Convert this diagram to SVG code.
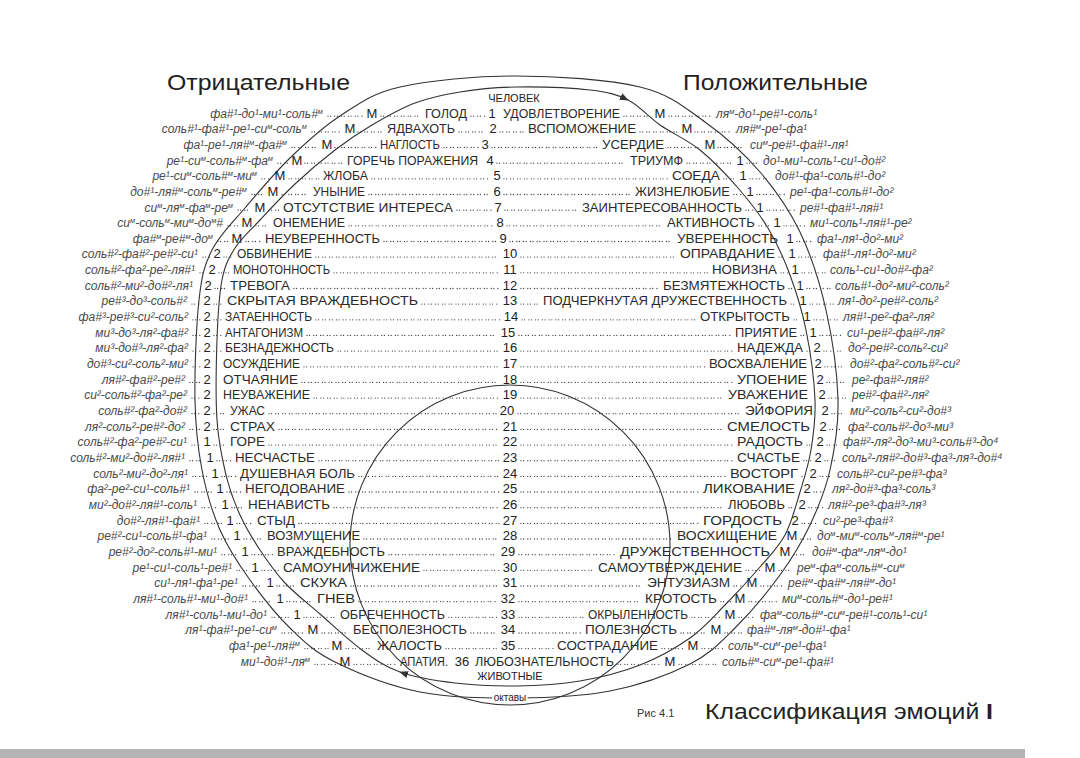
<svg xmlns="http://www.w3.org/2000/svg" width="1080" height="758" viewBox="0 0 1080 758">
<defs>
<marker id="ah" viewBox="0 0 10 10" refX="9" refY="5" markerWidth="9" markerHeight="9" orient="auto" markerUnits="userSpaceOnUse"><path d="M0,1 L10,5 L0,9 z" fill="#333"/></marker>
</defs>
<style>
text{font-family:"Liberation Sans",Arial,sans-serif}
.h{font-size:22px;fill:#222}
.cl{font-style:italic;font-size:12px;fill:#4a4a4a;text-anchor:end}
.cr{font-style:italic;font-size:12px;fill:#4a4a4a}
.u{font-size:7.5px;baseline-shift:super}
.m{font-size:13px;fill:#222;text-anchor:middle}
.n{font-size:13px;fill:#222;text-anchor:middle}
.e{font-size:12px;fill:#2a2a2a}
.er{font-size:12px;fill:#2a2a2a;text-anchor:end}
.d{fill:none;stroke:#444;stroke-width:1.3;stroke-linecap:round;stroke-dasharray:0 2.6 0 4.2}
.ln{fill:none;stroke:#333;stroke-width:1.1}
.s{font-size:11px;fill:#222;text-anchor:middle}
</style>
<rect width="1080" height="758" fill="#fff"/>
<rect x="0" y="749" width="1025" height="9" fill="#b4b4b4"/>

<g id="connectors">
<path id="outer" class="ln" d="M516,76 C556,76 608.5,79.3 640,87 C671.5,94.7 685,107.8 705,122 C725,136.2 744.2,153.7 760,172 C775.8,190.3 789,209 800,232 C811,255 819.7,282 826,310 C832.3,338 837.3,373.3 838,400 C838.7,426.7 834.7,449.2 830,470 C825.3,490.8 818.3,507.5 810,525 C801.7,542.5 792.5,557.8 780,575 C767.5,592.2 750,613.2 735,628 C720,642.8 710.8,653.5 690,664 C669.2,674.5 639,685.3 610,691 C581,696.7 547.7,697.8 516,698 C484.3,698.2 450.2,698 420,692 C389.8,686 356.7,672.7 335,662 C313.3,651.3 304.2,641.7 290,628 C275.8,614.3 261.7,596.3 250,580 C238.3,563.7 228,548.3 220,530 C212,511.7 206.2,491.7 202,470 C197.8,448.3 195.5,428.3 195,400 C194.5,371.7 196.2,325 199,300 C201.8,275 204.3,265.3 212,250 C219.7,234.7 232,223.3 245,208 C258,192.7 274.2,173.3 290,158 C305.8,142.7 321.7,127.8 340,116 C358.3,104.2 370.7,93.7 400,87 C429.3,80.3 476,76 516,76 Z"/>
<path id="inner-left" class="ln" marker-end="url(#ah)" d="M400,672 C384.5,666.5 375.3,659.7 362,650 C348.7,640.3 332.8,625.2 320,614 C307.2,602.8 295,593.7 285,583 C275,572.3 267.5,561.3 260,550 C252.5,538.7 245.7,527.5 240,515 C234.3,502.5 229.8,490.8 226,475 C222.2,459.2 218.5,442.5 217,420 C215.5,397.5 216.2,363.3 217,340 C217.8,316.7 219,295.3 222,280 C225,264.7 228.7,258 235,248 C241.3,238 250,230.7 260,220 C270,209.3 282.5,195.7 295,184 C307.5,172.3 322.2,159.8 335,150 C347.8,140.2 358.7,132.8 372,125 C385.3,117.2 400.3,108.5 415,103 C429.7,97.5 443.2,94.7 460,92 C476.8,89.3 494.3,87.3 516,87 C537.7,86.7 571.3,87.8 590,90 C608.7,92.2 616.3,94.2 628,100"/>
<path id="inner-right" class="ln" marker-end="url(#ah)" d="M628,100 C639.7,105.8 648,116.7 660,125 C672,133.3 687,139.5 700,150 C713,160.5 726.7,175 738,188 C749.3,201 759.3,213.5 768,228 C776.7,242.5 783.7,258 790,275 C796.3,292 801.8,309.2 806,330 C810.2,350.8 814.2,380 815,400 C815.8,420 813.5,434.7 811,450 C808.5,465.3 804.3,477.8 800,492 C795.7,506.2 791.7,522.5 785,535 C778.3,547.5 770,555.3 760,567 C750,578.7 736.7,593.2 725,605 C713.3,616.8 704.2,628 690,638 C675.8,648 658.3,657.8 640,665 C621.7,672.2 600.7,677.5 580,681 C559.3,684.5 536.8,685.7 516,686 C495.2,686.3 474.3,685.3 455,683 C435.7,680.7 415.5,677.5 400,672"/>
<circle class="ln" cx="510" cy="545" r="160"/>
</g>

<g id="headings">
<text class="h" x="167" y="90" textLength="183" lengthAdjust="spacingAndGlyphs">Отрицательные</text>
<text class="h" x="683" y="90" textLength="185" lengthAdjust="spacingAndGlyphs">Положительные</text>
<text class="s" x="514" y="102">ЧЕЛОВЕК</text>
<text class="s" x="510" y="680">ЖИВОТНЫЕ</text>
<text class="s" x="510" y="701" style="font-size:10px;paint-order:stroke;stroke:#fff;stroke-width:4">октавы</text>
<text x="637" y="717" style="font-size:11px;fill:#333">Рис 4.1</text>
<text class="h" x="705" y="719" textLength="288" lengthAdjust="spacingAndGlyphs">Классификация эмоций <tspan font-weight="bold">I</tspan></text>
</g>

<g id="row1" transform="translate(0,117.5)"><text class="cl" x="323">фа#¹-до¹-ми¹-соль#<tspan class="u">м</tspan></text><text class="m" x="372">М</text><text class="e" x="425" textLength="42" lengthAdjust="spacingAndGlyphs">ГОЛОД</text><text class="n" x="492">1</text><text class="er" x="620" textLength="117" lengthAdjust="spacingAndGlyphs">УДОВЛЕТВОРЕНИЕ</text><text class="m" x="660">М</text><text class="cr" x="716">ля<tspan class="u">м</tspan>-до¹-ре#¹-соль¹</text><path class="d" d="M328-1.3H363M381-1.3H421M471-1.3H485M624-1.3H651M669-1.3H711"/></g>
<g id="row2" transform="translate(0,133.2)"><text class="cl" x="307">соль#¹-фа#¹-ре¹-си<tspan class="u">м</tspan>-соль<tspan class="u">м</tspan></text><text class="m" x="350">М</text><text class="e" x="387" textLength="68" lengthAdjust="spacingAndGlyphs">ЯДВАХОТЬ</text><text class="n" x="493">2</text><text class="er" x="636" textLength="108" lengthAdjust="spacingAndGlyphs">ВСПОМОЖЕНИЕ</text><text class="m" x="687">М</text><text class="cr" x="736">ля#<tspan class="u">м</tspan>-ре¹-фа¹</text><path class="d" d="M312-1.3H341M358-1.3H383M459-1.3H486M500-1.3H524M640-1.3H678M695-1.3H731"/></g>
<g id="row3" transform="translate(0,148.8)"><text class="cl" x="287">фа¹-ре¹-ля#<tspan class="u">м</tspan>-фа#<tspan class="u">м</tspan></text><text class="m" x="327">М</text><text class="e" x="380" textLength="60" lengthAdjust="spacingAndGlyphs">НАГЛОСТЬ</text><text class="n" x="485">3</text><text class="er" x="664" textLength="62" lengthAdjust="spacingAndGlyphs">УСЕРДИЕ</text><text class="m" x="710">М</text><text class="cr" x="750">си<tspan class="u">м</tspan>-ре#¹-фа#¹-ля¹</text><path class="d" d="M292-1.3H318M335-1.3H376M444-1.3H478M492-1.3H598M668-1.3H701M718-1.3H745"/></g>
<g id="row4" transform="translate(0,164.5)"><text class="cl" x="273">ре¹-си<tspan class="u">м</tspan>-соль#<tspan class="u">м</tspan>-фа<tspan class="u">м</tspan></text><text class="m" x="297">М</text><text class="e" x="347" textLength="131" lengthAdjust="spacingAndGlyphs">ГОРЕЧЬ ПОРАЖЕНИЯ</text><text class="n" x="490">4</text><text class="er" x="683" textLength="53" lengthAdjust="spacingAndGlyphs">ТРИУМФ</text><text class="m" x="740">1</text><text class="cr" x="763">до¹-ми¹-соль¹-си¹-до#²</text><path class="d" d="M278-1.3H288M305-1.3H343M497-1.3H626M687-1.3H733M747-1.3H758"/></g>
<g id="row5" transform="translate(0,180.1)"><text class="cl" x="257">ре¹-си<tspan class="u">м</tspan>-соль#<tspan class="u">м</tspan>-ми<tspan class="u">м</tspan></text><text class="m" x="280">М</text><text class="e" x="323" textLength="45" lengthAdjust="spacingAndGlyphs">ЖЛОБА</text><text class="n" x="497">5</text><text class="er" x="720" textLength="48" lengthAdjust="spacingAndGlyphs">СОЕДА</text><text class="m" x="743">1</text><text class="cr" x="775">до#¹-фа¹-соль#¹-до²</text><path class="d" d="M262-1.3H271M289-1.3H319M372-1.3H490M504-1.3H668M724-1.3H736M750-1.3H770"/></g>
<g id="row6" transform="translate(0,195.8)"><text class="cl" x="247">до#¹-ля#<tspan class="u">м</tspan>-соль<tspan class="u">м</tspan>-ре#<tspan class="u">м</tspan></text><text class="m" x="273">М</text><text class="e" x="313" textLength="52" lengthAdjust="spacingAndGlyphs">УНЫНИЕ</text><text class="n" x="497">6</text><text class="er" x="730" textLength="95" lengthAdjust="spacingAndGlyphs">ЖИЗНЕЛЮБИЕ</text><text class="m" x="750">1</text><text class="cr" x="790">ре¹-фа¹-соль#¹-до²</text><path class="d" d="M252-1.3H264M282-1.3H309M369-1.3H490M504-1.3H631M734-1.3H743M757-1.3H785"/></g>
<g id="row7" transform="translate(0,211.5)"><text class="cl" x="233">си<tspan class="u">м</tspan>-ля<tspan class="u">м</tspan>-фа<tspan class="u">м</tspan>-ре<tspan class="u">м</tspan></text><text class="m" x="260">М</text><text class="e" x="283" textLength="170" lengthAdjust="spacingAndGlyphs">ОТСУТСТВИЕ ИНТЕРЕСА</text><text class="n" x="498">7</text><text class="er" x="742" textLength="160" lengthAdjust="spacingAndGlyphs">ЗАИНТЕРЕСОВАННОСТЬ</text><text class="m" x="760">1</text><text class="cr" x="800">ре#¹-фа#¹-ля#¹</text><path class="d" d="M238-1.3H251M269-1.3H279M457-1.3H491M505-1.3H578M746-1.3H753M767-1.3H795"/></g>
<g id="row8" transform="translate(0,227.1)"><text class="cl" x="223">си<tspan class="u">м</tspan>-соль<tspan class="u">м</tspan>-ми<tspan class="u">м</tspan>-до<tspan class="u">м</tspan>#</text><text class="m" x="247">М</text><text class="e" x="273" textLength="72" lengthAdjust="spacingAndGlyphs">ОНЕМЕНИЕ</text><text class="n" x="500">8</text><text class="er" x="755" textLength="88" lengthAdjust="spacingAndGlyphs">АКТИВНОСТЬ</text><text class="m" x="777">1</text><text class="cr" x="810">ми¹-соль¹-ля#¹-ре²</text><path class="d" d="M228-1.3H238M256-1.3H269M349-1.3H493M507-1.3H663M759-1.3H770M784-1.3H805"/></g>
<g id="row9" transform="translate(0,242.8)"><text class="cl" x="213">фа#<tspan class="u">м</tspan>-ре#<tspan class="u">м</tspan>-до<tspan class="u">м</tspan></text><text class="m" x="237">М</text><text class="e" x="265" textLength="115" lengthAdjust="spacingAndGlyphs">НЕУВЕРЕННОСТЬ</text><text class="n" x="503">9</text><text class="er" x="778" textLength="101" lengthAdjust="spacingAndGlyphs">УВЕРЕННОСТЬ</text><text class="m" x="790">1</text><text class="cr" x="817">фа¹-ля¹-до²-ми²</text><path class="d" d="M218-1.3H228M246-1.3H261M384-1.3H496M510-1.3H673M797-1.3H812"/></g>
<g id="row10" transform="translate(0,258.4)"><text class="cl" x="198">соль#²-фа#²-ре#²-си¹</text><text class="m" x="217">2</text><text class="e" x="237" textLength="75" lengthAdjust="spacingAndGlyphs">ОБВИНЕНИЕ</text><text class="n" x="510">10</text><text class="er" x="775" textLength="95" lengthAdjust="spacingAndGlyphs">ОПРАВДАНИЕ</text><text class="m" x="792">1</text><text class="cr" x="823">фа#¹-ля¹-до²-ми²</text><path class="d" d="M203-1.3H210M224-1.3H233M316-1.3H499M521-1.3H676M779-1.3H785M799-1.3H818"/></g>
<g id="row11" transform="translate(0,274.1)"><text class="cl" x="195">соль#²-фа²-ре²-ля#¹</text><text class="m" x="212">2</text><text class="e" x="233" textLength="97" lengthAdjust="spacingAndGlyphs">МОНОТОННОСТЬ</text><text class="n" x="510">11</text><text class="er" x="777" textLength="65" lengthAdjust="spacingAndGlyphs">НОВИЗНА</text><text class="m" x="795">1</text><text class="cr" x="830">соль¹-си¹-до#²-фа²</text><path class="d" d="M200-1.3H205M219-1.3H229M334-1.3H499M521-1.3H708M781-1.3H788M802-1.3H825"/></g>
<g id="row12" transform="translate(0,289.8)"><text class="cl" x="193">соль#²-ми²-до#²-ля¹</text><text class="m" x="208">2</text><text class="e" x="230" textLength="60" lengthAdjust="spacingAndGlyphs">ТРЕВОГА</text><text class="n" x="510">12</text><text class="er" x="785" textLength="122" lengthAdjust="spacingAndGlyphs">БЕЗМЯТЕЖНОСТЬ</text><text class="m" x="800">1</text><text class="cr" x="835">соль#¹-до²-ми²-соль²</text><path class="d" d="M215-1.3H226M294-1.3H499M521-1.3H659M789-1.3H793M807-1.3H830"/></g>
<g id="row13" transform="translate(0,305.4)"><text class="cl" x="187">ре#³-до³-соль#²</text><text class="m" x="207">2</text><text class="e" x="227" textLength="191" lengthAdjust="spacingAndGlyphs">СКРЫТАЯ ВРАЖДЕБНОСТЬ</text><text class="n" x="510">13</text><text class="er" x="787" textLength="244" lengthAdjust="spacingAndGlyphs">ПОДЧЕРКНУТАЯ ДРУЖЕСТВЕННОСТЬ</text><text class="m" x="803">1</text><text class="cr" x="838">ля¹-до²-ре#²-соль²</text><path class="d" d="M192-1.3H200M214-1.3H223M422-1.3H499M521-1.3H539M791-1.3H796M810-1.3H833"/></g>
<g id="row14" transform="translate(0,321.1)"><text class="cl" x="188">фа#³-ре#³-си²-соль²</text><text class="m" x="207">2</text><text class="e" x="225" textLength="87" lengthAdjust="spacingAndGlyphs">ЗАТАЕННОСТЬ</text><text class="n" x="511">14</text><text class="er" x="790" textLength="90" lengthAdjust="spacingAndGlyphs">ОТКРЫТОСТЬ</text><text class="m" x="807">1</text><text class="cr" x="843">ля#¹-ре²-фа²-ля²</text><path class="d" d="M193-1.3H200M214-1.3H221M316-1.3H500M522-1.3H696M794-1.3H800M814-1.3H838"/></g>
<g id="row15" transform="translate(0,336.7)"><text class="cl" x="188">ми³-до³-ля²-фа#²</text><text class="m" x="207">2</text><text class="e" x="225" textLength="78" lengthAdjust="spacingAndGlyphs">АНТАГОНИЗМ</text><text class="n" x="508">15</text><text class="er" x="797" textLength="62" lengthAdjust="spacingAndGlyphs">ПРИЯТИЕ</text><text class="m" x="813">1</text><text class="cr" x="847">си¹-ре#²-фа#²-ля²</text><path class="d" d="M193-1.3H200M214-1.3H221M307-1.3H497M519-1.3H731M801-1.3H806M820-1.3H842"/></g>
<g id="row16" transform="translate(0,352.4)"><text class="cl" x="188">ми³-до#³-ля²-фа²</text><text class="m" x="207">2</text><text class="e" x="225" textLength="109" lengthAdjust="spacingAndGlyphs">БЕЗНАДЕЖНОСТЬ</text><text class="n" x="510">16</text><text class="er" x="803" textLength="66" lengthAdjust="spacingAndGlyphs">НАДЕЖДА</text><text class="m" x="817">2</text><text class="cr" x="848">до²-ре#²-соль²-си²</text><path class="d" d="M193-1.3H200M214-1.3H221M338-1.3H499M521-1.3H733M807-1.3H810M824-1.3H843"/></g>
<g id="row17" transform="translate(0,368.1)"><text class="cl" x="188">до#³-си²-соль²-ми²</text><text class="m" x="207">2</text><text class="e" x="223" textLength="77" lengthAdjust="spacingAndGlyphs">ОСУЖДЕНИЕ</text><text class="n" x="510">17</text><text class="er" x="807" textLength="98" lengthAdjust="spacingAndGlyphs">ВОСХВАЛЕНИЕ</text><text class="m" x="818">2</text><text class="cr" x="850">до#²-фа²-соль#²-си²</text><path class="d" d="M193-1.3H200M304-1.3H499M521-1.3H705M825-1.3H845"/></g>
<g id="row18" transform="translate(0,383.7)"><text class="cl" x="185">ля#²-фа#²-ре#²</text><text class="m" x="207">2</text><text class="e" x="223" textLength="75" lengthAdjust="spacingAndGlyphs">ОТЧАЯНИЕ</text><text class="n" x="510">18</text><text class="er" x="807" textLength="70" lengthAdjust="spacingAndGlyphs">УПОЕНИЕ</text><text class="m" x="820">2</text><text class="cr" x="852">ре²-фа#²-ля#²</text><path class="d" d="M190-1.3H200M302-1.3H499M521-1.3H733M827-1.3H847"/></g>
<g id="row19" transform="translate(0,399.4)"><text class="cl" x="187">си²-соль#²-фа²-ре²</text><text class="m" x="207">2</text><text class="e" x="223" textLength="87" lengthAdjust="spacingAndGlyphs">НЕУВАЖЕНИЕ</text><text class="n" x="510">19</text><text class="er" x="808" textLength="80" lengthAdjust="spacingAndGlyphs">УВАЖЕНИЕ</text><text class="m" x="822">2</text><text class="cr" x="852">ре#²-фа#²-ля²</text><path class="d" d="M192-1.3H200M314-1.3H499M521-1.3H724M829-1.3H847"/></g>
<g id="row20" transform="translate(0,415)"><text class="cl" x="187">соль#²-фа²-до#²</text><text class="m" x="207">2</text><text class="e" x="230" textLength="35" lengthAdjust="spacingAndGlyphs">УЖАС</text><text class="n" x="507">20</text><text class="er" x="813" textLength="68" lengthAdjust="spacingAndGlyphs">ЭЙФОРИЯ</text><text class="m" x="825">2</text><text class="cr" x="850">ми²-соль²-си²-до#³</text><path class="d" d="M192-1.3H200M214-1.3H226M269-1.3H496M518-1.3H741M832-1.3H845"/></g>
<g id="row21" transform="translate(0,430.7)"><text class="cl" x="185">ля²-соль²-ре#²-до²</text><text class="m" x="207">2</text><text class="e" x="230" textLength="45" lengthAdjust="spacingAndGlyphs">СТРАХ</text><text class="n" x="510">21</text><text class="er" x="810" textLength="83" lengthAdjust="spacingAndGlyphs">СМЕЛОСТЬ</text><text class="m" x="823">2</text><text class="cr" x="848">фа²-соль#²-до³-ми³</text><path class="d" d="M190-1.3H200M214-1.3H226M279-1.3H499M521-1.3H723M830-1.3H843"/></g>
<g id="row22" transform="translate(0,446.4)"><text class="cl" x="187">соль#²-фа²-ре#²-си¹</text><text class="m" x="207">1</text><text class="e" x="230" textLength="35" lengthAdjust="spacingAndGlyphs">ГОРЕ</text><text class="n" x="510">22</text><text class="er" x="803" textLength="66" lengthAdjust="spacingAndGlyphs">РАДОСТЬ</text><text class="m" x="820">2</text><text class="cr" x="843">фа#²-ля²-до³-ми³-соль#³-до⁴</text><path class="d" d="M192-1.3H200M214-1.3H226M269-1.3H499M521-1.3H733M807-1.3H813M827-1.3H838"/></g>
<g id="row23" transform="translate(0,462)"><text class="cl" x="185">соль#²-ми²-до#²-ля#¹</text><text class="m" x="210">1</text><text class="e" x="235" textLength="80" lengthAdjust="spacingAndGlyphs">НЕСЧАСТЬЕ</text><text class="n" x="510">23</text><text class="er" x="800" textLength="63" lengthAdjust="spacingAndGlyphs">СЧАСТЬЕ</text><text class="m" x="818">2</text><text class="cr" x="842">соль²-ля#²-до#³-фа³-ля³-до#⁴</text><path class="d" d="M190-1.3H203M217-1.3H231M319-1.3H499M521-1.3H733M804-1.3H811M825-1.3H837"/></g>
<g id="row24" transform="translate(0,477.7)"><text class="cl" x="188">соль²-ми²-до²-ля¹</text><text class="m" x="215">1</text><text class="e" x="240" textLength="115" lengthAdjust="spacingAndGlyphs">ДУШЕВНАЯ БОЛЬ</text><text class="n" x="510">24</text><text class="er" x="798" textLength="68" lengthAdjust="spacingAndGlyphs">ВОСТОРГ</text><text class="m" x="813">2</text><text class="cr" x="837">соль#²-си²-ре#³-фа³</text><path class="d" d="M193-1.3H208M222-1.3H236M359-1.3H499M521-1.3H726M802-1.3H806M820-1.3H832"/></g>
<g id="row25" transform="translate(0,493.3)"><text class="cl" x="190">фа²-ре²-си¹-соль#¹</text><text class="m" x="220">1</text><text class="e" x="245" textLength="100" lengthAdjust="spacingAndGlyphs">НЕГОДОВАНИЕ</text><text class="n" x="510">25</text><text class="er" x="795" textLength="92" lengthAdjust="spacingAndGlyphs">ЛИКОВАНИЕ</text><text class="m" x="807">2</text><text class="cr" x="832">ля²-до#³-фа³-соль³</text><path class="d" d="M195-1.3H213M227-1.3H241M349-1.3H499M521-1.3H699M814-1.3H827"/></g>
<g id="row26" transform="translate(0,509)"><text class="cl" x="197">ми²-до#²-ля#¹-соль¹</text><text class="m" x="225">1</text><text class="e" x="248" textLength="82" lengthAdjust="spacingAndGlyphs">НЕНАВИСТЬ</text><text class="n" x="510">26</text><text class="er" x="785" textLength="57" lengthAdjust="spacingAndGlyphs">ЛЮБОВЬ</text><text class="m" x="802">2</text><text class="cr" x="828">ля#²-ре³-фа#³-ля³</text><path class="d" d="M202-1.3H218M232-1.3H244M334-1.3H499M521-1.3H724M789-1.3H795M809-1.3H823"/></g>
<g id="row27" transform="translate(0,524.7)"><text class="cl" x="200">до#²-ля#¹-фа#¹</text><text class="m" x="230">1</text><text class="e" x="257" textLength="38" lengthAdjust="spacingAndGlyphs">СТЫД</text><text class="n" x="510">27</text><text class="er" x="782" textLength="79" lengthAdjust="spacingAndGlyphs">ГОРДОСТЬ</text><text class="m" x="795">2</text><text class="cr" x="823">си²-ре³-фа#³</text><path class="d" d="M205-1.3H223M237-1.3H253M299-1.3H499M521-1.3H699M802-1.3H818"/></g>
<g id="row28" transform="translate(0,540.3)"><text class="cl" x="207">ре#²-си¹-соль#¹-фа¹</text><text class="m" x="237">1</text><text class="e" x="267" textLength="93" lengthAdjust="spacingAndGlyphs">ВОЗМУЩЕНИЕ</text><text class="n" x="510">28</text><text class="er" x="777" textLength="100" lengthAdjust="spacingAndGlyphs">ВОСХИЩЕНИЕ</text><text class="m" x="792">М</text><text class="cr" x="817">до<tspan class="u">м</tspan>-ми<tspan class="u">м</tspan>-соль<tspan class="u">м</tspan>-ля#<tspan class="u">м</tspan>-ре¹</text><path class="d" d="M212-1.3H230M244-1.3H263M364-1.3H499M521-1.3H673M801-1.3H812"/></g>
<g id="row29" transform="translate(0,556)"><text class="cl" x="217">ре#²-до²-соль#¹-ми¹</text><text class="m" x="245">1</text><text class="e" x="277" textLength="108" lengthAdjust="spacingAndGlyphs">ВРАЖДЕБНОСТЬ</text><text class="n" x="508">29</text><text class="er" x="770" textLength="150" lengthAdjust="spacingAndGlyphs">ДРУЖЕСТВЕННОСТЬ</text><text class="m" x="785">М</text><text class="cr" x="812">до#<tspan class="u">м</tspan>-фа<tspan class="u">м</tspan>-ля<tspan class="u">м</tspan>-до¹</text><path class="d" d="M222-1.3H238M252-1.3H273M389-1.3H497M519-1.3H616M794-1.3H807"/></g>
<g id="row30" transform="translate(0,571.6)"><text class="cl" x="232">ре¹-си¹-соль¹-ре#¹</text><text class="m" x="255">1</text><text class="e" x="283" textLength="137" lengthAdjust="spacingAndGlyphs">САМОУНИЧИЖЕНИЕ</text><text class="n" x="510">30</text><text class="er" x="742" textLength="144" lengthAdjust="spacingAndGlyphs">САМОУТВЕРЖДЕНИЕ</text><text class="m" x="770">М</text><text class="cr" x="797">ре<tspan class="u">м</tspan>-фа<tspan class="u">м</tspan>-соль#<tspan class="u">м</tspan>-си<tspan class="u">м</tspan></text><path class="d" d="M237-1.3H248M262-1.3H279M424-1.3H499M521-1.3H594M746-1.3H761M779-1.3H792"/></g>
<g id="row31" transform="translate(0,587.3)"><text class="cl" x="238">си¹-ля¹-фа¹-ре¹</text><text class="m" x="270">1</text><text class="e" x="300" textLength="47" lengthAdjust="spacingAndGlyphs">СКУКА</text><text class="n" x="510">31</text><text class="er" x="730" textLength="83" lengthAdjust="spacingAndGlyphs">ЭНТУЗИАЗМ</text><text class="m" x="752">М</text><text class="cr" x="788">ре#<tspan class="u">м</tspan>-фа#<tspan class="u">м</tspan>-ля#<tspan class="u">м</tspan>-до¹</text><path class="d" d="M243-1.3H263M277-1.3H296M351-1.3H499M521-1.3H643M734-1.3H743M761-1.3H783"/></g>
<g id="row32" transform="translate(0,603)"><text class="cl" x="248">ля#¹-соль#¹-ми¹-до#¹</text><text class="m" x="280">1</text><text class="e" x="317" textLength="38" lengthAdjust="spacingAndGlyphs">ГНЕВ</text><text class="n" x="508">32</text><text class="er" x="717" textLength="72" lengthAdjust="spacingAndGlyphs">КРОТОСТЬ</text><text class="m" x="740">М</text><text class="cr" x="782">ми<tspan class="u">м</tspan>-соль#<tspan class="u">м</tspan>-до¹-ре#¹</text><path class="d" d="M253-1.3H273M287-1.3H313M359-1.3H497M519-1.3H641M721-1.3H731M749-1.3H777"/></g>
<g id="row33" transform="translate(0,618.6)"><text class="cl" x="267">ля#¹-соль¹-ми¹-до¹</text><text class="m" x="297">1</text><text class="e" x="340" textLength="105" lengthAdjust="spacingAndGlyphs">ОБРЕЧЕННОСТЬ</text><text class="n" x="508">33</text><text class="er" x="688" textLength="100" lengthAdjust="spacingAndGlyphs">ОКРЫЛЕННОСТЬ</text><text class="m" x="730">М</text><text class="cr" x="760">фа<tspan class="u">м</tspan>-соль#<tspan class="u">м</tspan>-си<tspan class="u">м</tspan>-ре#¹-соль¹-си¹</text><path class="d" d="M272-1.3H290M304-1.3H336M449-1.3H497M519-1.3H584M692-1.3H721M739-1.3H755"/></g>
<g id="row34" transform="translate(0,634.3)"><text class="cl" x="277">ля¹-фа#¹-ре¹-си<tspan class="u">м</tspan></text><text class="m" x="313">М</text><text class="e" x="353" textLength="114" lengthAdjust="spacingAndGlyphs">БЕСПОЛЕЗНОСТЬ</text><text class="n" x="508">34</text><text class="er" x="677" textLength="92" lengthAdjust="spacingAndGlyphs">ПОЛЕЗНОСТЬ</text><text class="m" x="716">М</text><text class="cr" x="747">фа#<tspan class="u">м</tspan>-ля<tspan class="u">м</tspan>-до#¹-фа¹</text><path class="d" d="M282-1.3H304M322-1.3H349M471-1.3H497M519-1.3H581M681-1.3H707M725-1.3H742"/></g>
<g id="row35" transform="translate(0,649.9)"><text class="cl" x="300">фа¹-ре¹-ля#<tspan class="u">м</tspan></text><text class="m" x="337">М</text><text class="e" x="377" textLength="65" lengthAdjust="spacingAndGlyphs">ЖАЛОСТЬ</text><text class="n" x="508">35</text><text class="er" x="658" textLength="101" lengthAdjust="spacingAndGlyphs">СОСТРАДАНИЕ</text><text class="m" x="693">М</text><text class="cr" x="728">соль<tspan class="u">м</tspan>-си<tspan class="u">м</tspan>-ре¹-фа¹</text><path class="d" d="M305-1.3H328M346-1.3H373M446-1.3H497M519-1.3H553M662-1.3H684M702-1.3H723"/></g>
<g id="row36" transform="translate(0,665.6)"><text class="cl" x="310">ми¹-до#¹-ля<tspan class="u">м</tspan></text><text class="m" x="345">М</text><text class="e" x="400" textLength="48" lengthAdjust="spacingAndGlyphs">АПАТИЯ.</text><text class="n" x="462">36</text><text class="e" x="475" textLength="139" lengthAdjust="spacingAndGlyphs">ЛЮБОЗНАТЕЛЬНОСТЬ</text><text class="m" x="670">М</text><text class="cr" x="722">соль#<tspan class="u">м</tspan>-си<tspan class="u">м</tspan>-ре¹-фа#¹</text><path class="d" d="M315-1.3H336M354-1.3H396M618-1.3H661M679-1.3H717"/></g>
</svg>
